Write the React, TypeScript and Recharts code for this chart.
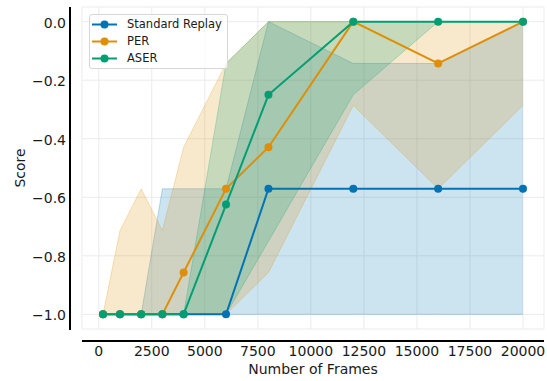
import { ComposedChart, Area, Line, XAxis, YAxis, CartesianGrid } from 'recharts';

const FONT = '"DejaVu Sans", sans-serif';

// x positions (number of frames)
const frames = [200, 1000, 2000, 3000, 4000, 6000, 8000, 12000, 16000, 20000];

// Standard Replay
const standardMean = [-1, -1, -1, -1, -1, -1, -0.571, -0.571, -0.571, -0.571];
const standardLow = [-1, -1, -1, -1, -1, -1, -1, -1, -1, -1];
const standardHigh = [-1, -1, -1, -0.571, -0.571, -0.571, 0, -0.143, -0.143, 0];

// PER
const perMean = [-1, -1, -1, -1, -0.857, -0.571, -0.429, 0, -0.143, 0];
const perLow = [-1, -1, -1, -1, -1, -1, -0.857, -0.286, -0.571, -0.286];
const perHigh = [-1, -0.714, -0.571, -0.714, -0.429, -0.143, 0, 0, 0, 0];

// ASER
const aserMean = [-1, -1, -1, -1, -1, -0.625, -0.25, 0, 0, 0];
const aserLow = [-1, -1, -1, -1, -1, -1, -0.75, -0.25, 0, 0];
const aserHigh = [-1, -1, -1, -1, -1, -0.143, 0, 0, 0, 0];

const xTicks = [0, 2500, 5000, 7500, 10000, 12500, 15000, 17500, 20000];
const yTicks = [0, -0.2, -0.4, -0.6, -0.8, -1.0];

const SERIES = [
  { key: 'standard', name: 'Standard Replay', color: '#0173b2' },
  { key: 'per', name: 'PER', color: '#de8f05' },
  { key: 'aser', name: 'ASER', color: '#029e73' },
];

const rows = frames.map((f, i) => ({
  frames: f,
  standard: standardMean[i],
  standardBand: [standardLow[i], standardHigh[i]],
  per: perMean[i],
  perBand: [perLow[i], perHigh[i]],
  aser: aserMean[i],
  aserBand: [aserLow[i], aserHigh[i]],
}));

// eslint-disable-next-line @typescript-eslint/no-explicit-any
function ScoreLabel(props: any) {
  const { viewBox } = props;
  const cx = viewBox.x + 19.5;
  const cy = viewBox.y + viewBox.height / 2;
  return (
    <text
      x={cx}
      y={cy}
      transform={`rotate(-90, ${cx}, ${cy})`}
      textAnchor="middle"
      dominantBaseline="central"
      fontSize={14}
      fontFamily={FONT}
      fill="#1a1a1a"
    >
      Score
    </text>
  );
}

// eslint-disable-next-line @typescript-eslint/no-explicit-any
function FramesLabel(props: any) {
  const { viewBox } = props;
  return (
    <text
      x={viewBox.x + viewBox.width / 2}
      y={viewBox.y + 40}
      textAnchor="middle"
      dominantBaseline="central"
      fontSize={14}
      fontFamily={FONT}
      fill="#1a1a1a"
    >
      Number of Frames
    </text>
  );
}

function LegendBox() {
  return (
    <div
      style={{
        position: 'absolute',
        left: 89,
        top: 14,
        width: 139,
        height: 55,
        boxSizing: 'border-box',
        border: '1px solid #d6d6d6',
        borderRadius: 3,
        background: 'rgba(255,255,255,0.8)',
        fontFamily: FONT,
        fontSize: 11.5,
        color: '#1a1a1a',
      }}
    >
      {SERIES.map((s, i) => (
        <div key={s.key} style={{ position: 'absolute', left: 0, top: 0.5 + i * 17, height: 17, width: '100%' }}>
          <svg width={27} height={17} style={{ position: 'absolute', left: 2, top: 0 }}>
            <line x1={0} y1={8.5} x2={25} y2={8.5} stroke={s.color} strokeWidth={2} />
            <circle cx={12.5} cy={8.5} r={4} fill={s.color} />
          </svg>
          <span style={{ position: 'absolute', left: 37, top: 0, lineHeight: '17px', whiteSpace: 'nowrap' }}>
            {s.name}
          </span>
        </div>
      ))}
    </div>
  );
}

export default function App() {
  const tickStyle = { fill: '#1a1a1a', fontSize: 14, fontFamily: FONT };
  return (
    <div style={{ position: 'absolute', left: 0, top: 0, width: 547, height: 381, background: '#fff' }}>
      <ComposedChart width={547} height={381} data={rows} margin={{ top: 7, right: 3, bottom: 0, left: 0 }}>
        <CartesianGrid stroke="#ebebeb" strokeWidth={1} />
        <XAxis
          dataKey="frames"
          type="number"
          domain={[-790, 20990]}
          ticks={xTicks}
          interval={0}
          height={52}
          axisLine={false}
          tickLine={false}
          tickSize={0}
          tickMargin={17}
          tick={tickStyle}
          allowDataOverflow
          label={<FramesLabel />}
        />
        <YAxis
          type="number"
          domain={[-1.05, 0.05]}
          ticks={yTicks}
          interval={0}
          width={82}
          axisLine={false}
          tickLine={false}
          tickSize={0}
          tickMargin={16}
          tick={{ ...tickStyle, dy: 1 }}
          tickFormatter={(v: number) => (v === 0 ? '0.0' : v.toFixed(1).replace('-', '\u2212'))}
          allowDataOverflow
          label={<ScoreLabel />}
        />
        {SERIES.map((s) => (
          <Area
            key={s.key + 'Band'}
            type="linear"
            dataKey={s.key + 'Band'}
            stroke={s.color}
            strokeOpacity={0.25}
            strokeWidth={1}
            fill={s.color}
            fillOpacity={0.2}
            dot={false}
            activeDot={false}
            legendType="none"
            isAnimationActive={false}
          />
        ))}
        {SERIES.map((s) => (
          <Line
            key={s.key}
            type="linear"
            dataKey={s.key}
            name={s.name}
            stroke={s.color}
            strokeWidth={2}
            dot={{ r: 4, fill: s.color, stroke: s.color, strokeWidth: 0 }}
            activeDot={false}
            isAnimationActive={false}
          />
        ))}
      </ComposedChart>
      {/* offset spines */}
      <div style={{ position: 'absolute', left: 69, top: 7, width: 2, height: 323, background: '#000' }} />
      <div style={{ position: 'absolute', left: 82, top: 340, width: 462, height: 2, background: '#000' }} />
      <LegendBox />
    </div>
  );
}
